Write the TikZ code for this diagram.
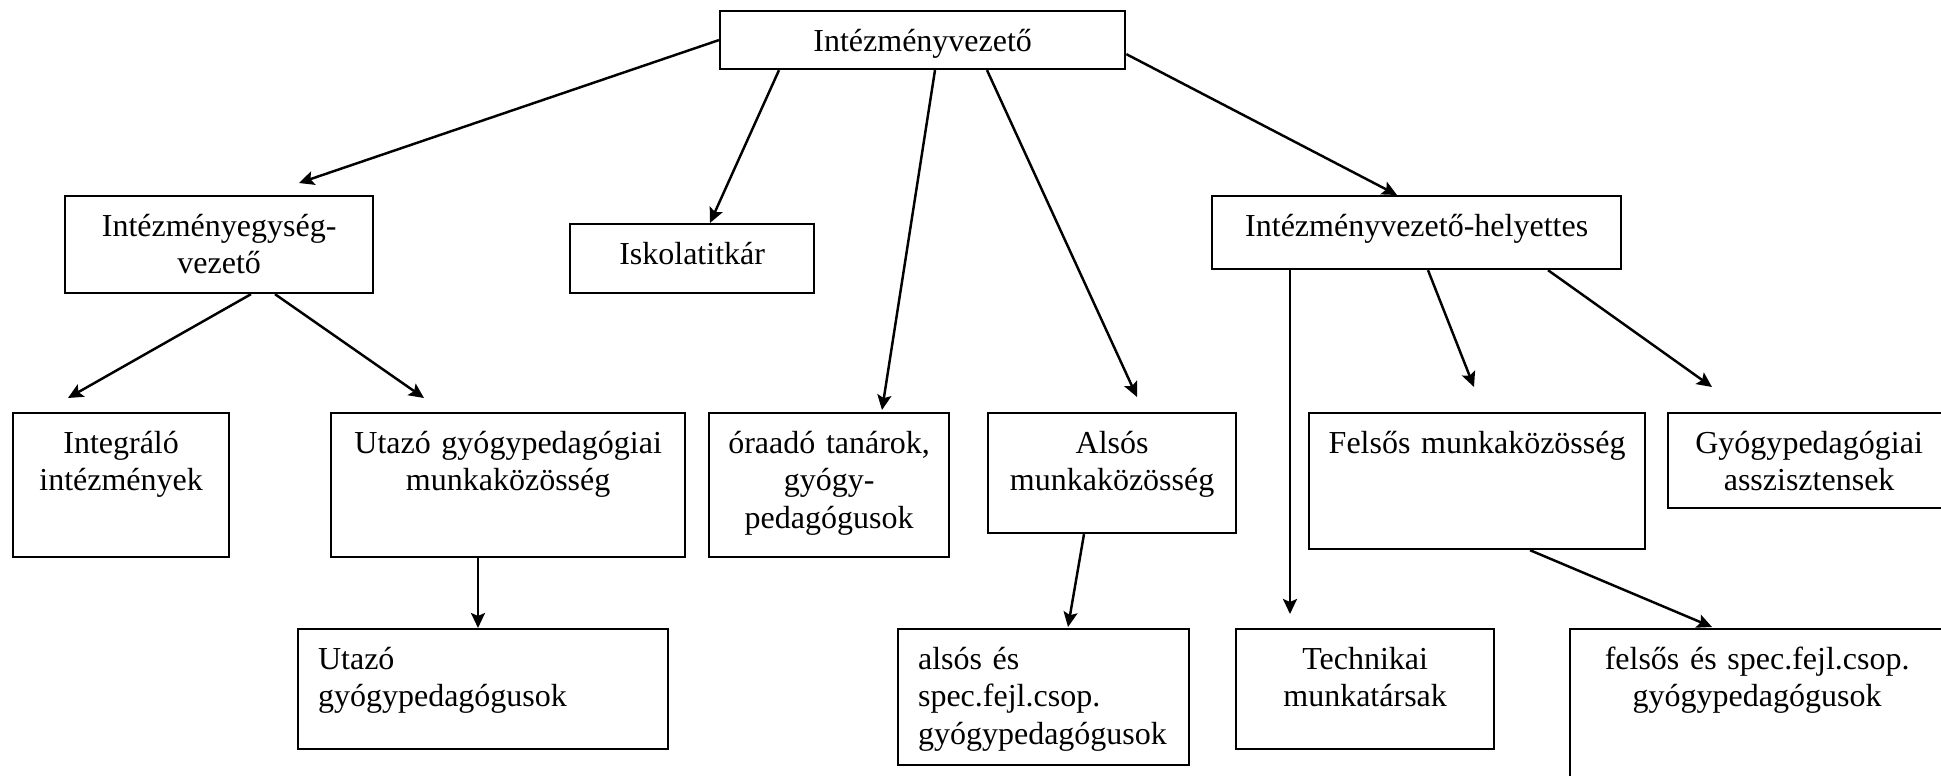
\documentclass[tikz,border=0pt]{standalone}
\usepackage{fontspec}
\setmainfont{Liberation Serif}
\usetikzlibrary{arrows.meta,calc}

\begin{document}
\begin{tikzpicture}[x=0.01cm, y=-0.01cm, line width=0.6pt,
        orgbox/.style={draw, anchor=north west, align=center, inner xsep=0.1cm, inner ysep=0.1cm,
                text height=0.3cm, font=\fontsize{9.1}{10.7}\selectfont},
        orgboxleft/.style={orgbox, align=left, inner xsep=0.2cm},
        link/.style={line width=0.7pt, -{Stealth[length=0.15cm, width=0.14cm, inset=0.03cm]}}]

    \useasboundingbox (0, 0) rectangle (1941, 776);
    \clip (0, 0) rectangle (1941, 776);

    \node[orgbox, text width=3.85cm, text depth=0.08cm] (lead) at (719, 10) {Intézményvezető};

    \node[orgbox, text width=2.88cm, text depth=0.47cm] (unitlead) at (64, 195) {Intézményegység-\\vezető};
    \node[orgbox, text width=2.24cm, text depth=0.19cm] (secretary) at (569, 223) {Iskolatitkár};
    \node[orgbox, text width=3.89cm, text depth=0.23cm] (deputy) at (1211, 195) {Intézményvezető-helyettes};

    \node[orgbox, text width=1.96cm, text depth=0.94cm] (integr) at (12, 412) {Integráló\\intézmények};
    \node[orgbox, text width=3.34cm, text depth=0.94cm] (travelwg) at (330, 412) {Utazó gyógypedagógiai\\munkaközösség};
    \node[orgbox, text width=2.20cm, text depth=0.94cm] (parttime) at (708, 412) {óraadó tanárok,\\gyógy-\\pedagógusok};
    \node[orgbox, text width=2.28cm, text depth=0.70cm] (lowerwg) at (987, 412) {Alsós\\munkaközösség};
    \node[orgbox, text width=3.16cm, text depth=0.86cm] (upperwg) at (1308, 412) {Felsős munkaközösség};
    \node[orgbox, text width=2.62cm, text depth=0.45cm] (assist) at (1667, 412) {Gyógypedagógiai\\asszisztensek};

    \node[orgboxleft, text width=3.30cm, text depth=0.70cm] (travelsp) at (297, 628) {Utazó\\gyógypedagógusok};
    \node[orgboxleft, text width=2.51cm, text depth=0.86cm] (lowersp) at (897, 628) {alsós és\\spec.fejl.csop.\\gyógypedagógusok};
    \node[orgbox, text width=2.38cm, text depth=0.70cm] (techstaff) at (1235, 628) {Technikai\\munkatársak};
    \node[orgbox, text width=3.54cm, text depth=1.30cm] (uppersp) at (1569, 628) {felsős és spec.fejl.csop.\\gyógypedagógusok};

    \draw[link] (lead.west) -- ($(unitlead.north west)+(235,-12)$);
    \draw[link] ($(lead.south west)+(60,0)$) -- ($(secretary.north west)+(141,0)$);
    \draw[link] ($(lead.south west)+(216,0)$) -- ($(parttime.north west)+(174,-2)$);
    \draw[link] ($(lead.south west)+(268,0)$) -- ($(lowerwg.north west)+(150,-15)$);
    \draw[link] ($(lead.south east)+(0,-16)$) -- ($(deputy.north west)+(186,0)$);

    \draw[link] ($(unitlead.south west)+(187,0)$) -- ($(integr.north west)+(56,-14)$);
    \draw[link] ($(unitlead.south west)+(211,0)$) -- ($(travelwg.north west)+(94,-14)$);
    \draw[link] ($(travelwg.south west)+(148,0)$) -- ($(travelsp.north west)+(181,0)$);
    \draw[link] ($(lowerwg.south west)+(97,0)$) -- ($(lowersp.north west)+(171,-1)$);

    \draw[link] ($(deputy.south west)+(79,0)$) -- ($(techstaff.north west)+(55,-14)$);
    \draw[link] ($(deputy.south west)+(217,0)$) -- ($(upperwg.north west)+(166,-25)$);
    \draw[link] ($(deputy.south west)+(337,0)$) -- ($(assist.north west)+(45,-25)$);
    \draw[link] ($(upperwg.south west)+(222,0)$) -- ($(uppersp.north west)+(143,-1)$);

\end{tikzpicture}
\end{document}
